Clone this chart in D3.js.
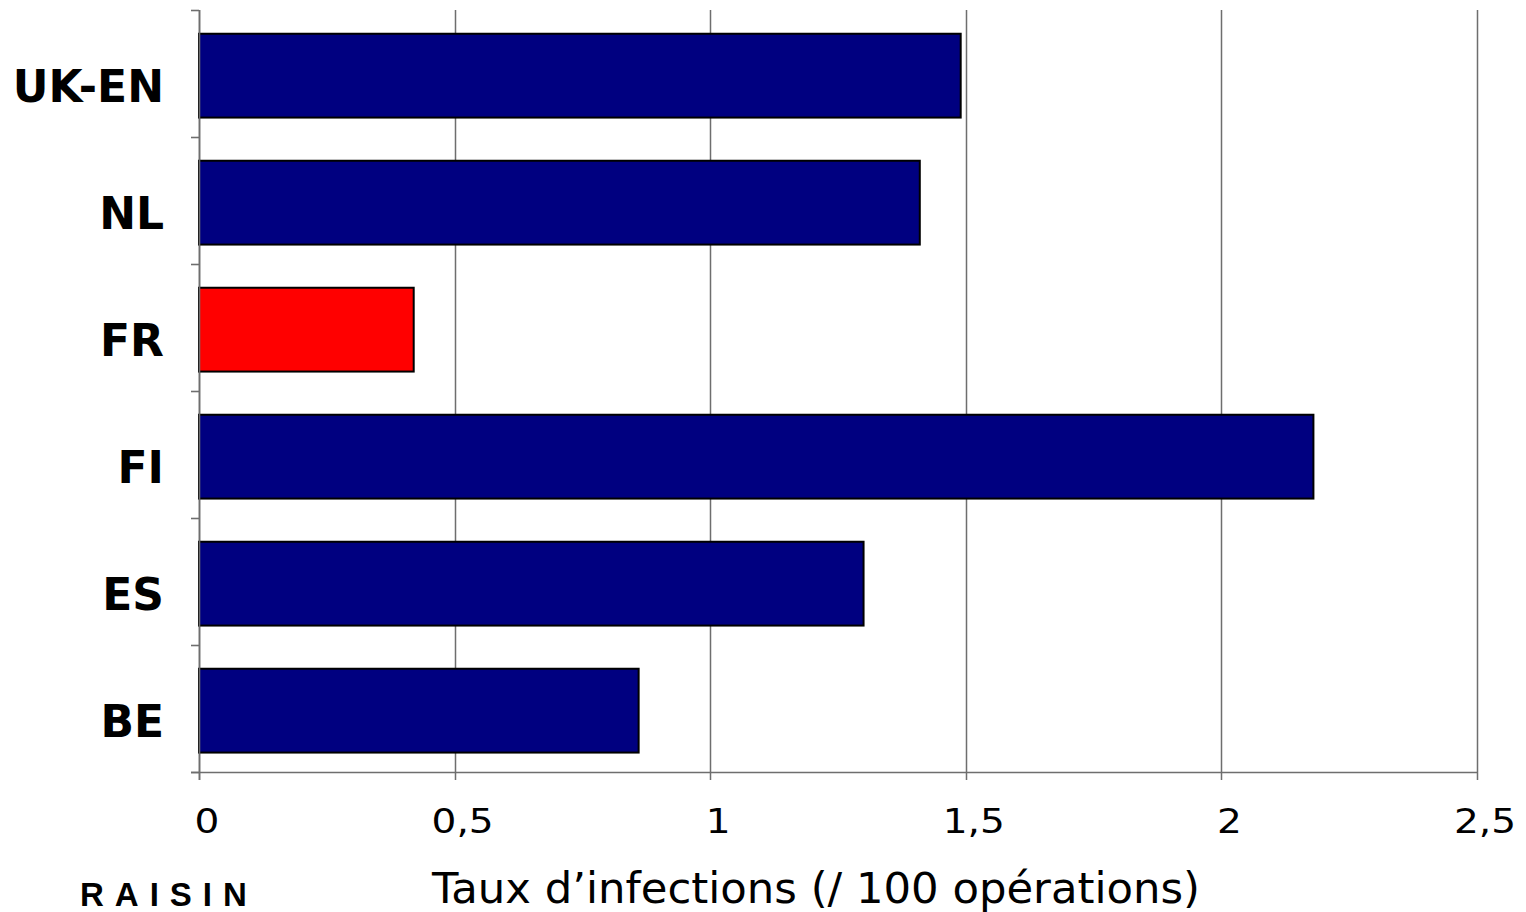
<!DOCTYPE html>
<html>
<head>
<meta charset="utf-8">
<script src="https://cdn.jsdelivr.net/npm/d3@7"></script>
<style>
  html, body { margin: 0; padding: 0; background: #fff; }
  svg { display: block; }
</style>
</head>
<body>
<svg id="chart" width="1526" height="912"></svg>
<script>
const categories = ["UK-EN", "NL", "FR", "FI", "ES", "BE"];
const values = [1.49, 1.41, 0.42, 2.18, 1.30, 0.86];
const highlight = ["FR"];
const xTicks = [0, 0.5, 1, 1.5, 2, 2.5];
const xTickLabels = ["0", "0,5", "1", "1,5", "2", "2,5"];
const xTitle = "Taux d\u2019infections (/ 100 op\u00e9rations)";
const sourceLabel = "RAISIN";

(function () {
const svg = d3.select("#chart");
const pLeft = 199, pRight = 1477, pTop = 10, pBottom = 772;

const x = d3.scaleLinear().domain([0, 2.5]).range([pLeft, pRight]);
const y = d3.scaleBand().domain(categories).range([pTop, pBottom])
  .paddingInner(0.34).paddingOuter(0.17).align(0.55);

const grid = "#6e6e6e";

// vertical gridlines (extend below axis as tick marks)
svg.append("g").selectAll("line").data(xTicks).join("line")
  .attr("x1", d => Math.round(x(d)) + 0.5).attr("x2", d => Math.round(x(d)) + 0.5)
  .attr("y1", pTop).attr("y2", pBottom + 8)
  .attr("stroke", grid).attr("stroke-width", 1.5);

// x axis line
svg.append("line")
  .attr("x1", pLeft - 8).attr("x2", pRight)
  .attr("y1", pBottom + 0.5).attr("y2", pBottom + 0.5)
  .attr("stroke", grid).attr("stroke-width", 1.6);

// y axis tick marks at band boundaries
const yBounds = d3.range(categories.length + 1).map(i => pTop + i * y.step());
svg.append("g").selectAll("line").data(yBounds).join("line")
  .attr("x1", pLeft - 8).attr("x2", pLeft)
  .attr("y1", d => Math.round(d) + 0.5).attr("y2", d => Math.round(d) + 0.5)
  .attr("stroke", grid).attr("stroke-width", 1.6);

// bars
svg.append("g").selectAll("rect").data(categories).join("rect")
  .attr("x", x(0))
  .attr("y", d => y(d))
  .attr("width", (d, i) => x(values[i]) - x(0))
  .attr("height", y.bandwidth())
  .attr("fill", d => highlight.includes(d) ? "#FF0000" : "#000080")
  .attr("stroke", "#000").attr("stroke-width", 2);

// y axis line
svg.append("line")
  .attr("x1", pLeft + 0.5).attr("x2", pLeft + 0.5)
  .attr("y1", pTop).attr("y2", pBottom + 8)
  .attr("stroke", grid).attr("stroke-width", 1.6);

// category labels
svg.append("g").selectAll("text").data(categories).join("text")
  .attr("x", 164)
  .attr("y", d => y(d) + y.bandwidth() / 2 + 26)
  .attr("text-anchor", "end")
  .attr("font-family", "DejaVu Sans, Verdana, sans-serif")
  .attr("font-weight", "bold")
  .attr("font-size", 44)
  .attr("fill", "#000")
  .text(d => d);

// x tick labels (slightly wide glyphs as in the reference)
svg.append("g").selectAll("text").data(xTicks).join("text")
  .attr("transform", d => `translate(${x(d) + 8},833) scale(1.15,1)`)
  .attr("text-anchor", "middle")
  .attr("font-family", "DejaVu Sans, Verdana, sans-serif")
  .attr("font-size", 34)
  .attr("fill", "#000")
  .text((d, i) => xTickLabels[i]);

// x axis title
svg.append("text")
  .attr("x", 432).attr("y", 903)
  .attr("font-family", "DejaVu Sans, Verdana, sans-serif")
  .attr("font-size", 42)
  .attr("textLength", 768)
  .attr("lengthAdjust", "spacingAndGlyphs")
  .attr("fill", "#000")
  .text(xTitle);

// source label
svg.append("text")
  .attr("x", 80).attr("y", 906)
  .attr("font-family", "Liberation Sans, Arial, sans-serif")
  .attr("font-weight", "bold")
  .attr("font-size", 33)
  .attr("letter-spacing", 11)
  .attr("fill", "#000")
  .text(sourceLabel);
})();
</script>
</body>
</html>
